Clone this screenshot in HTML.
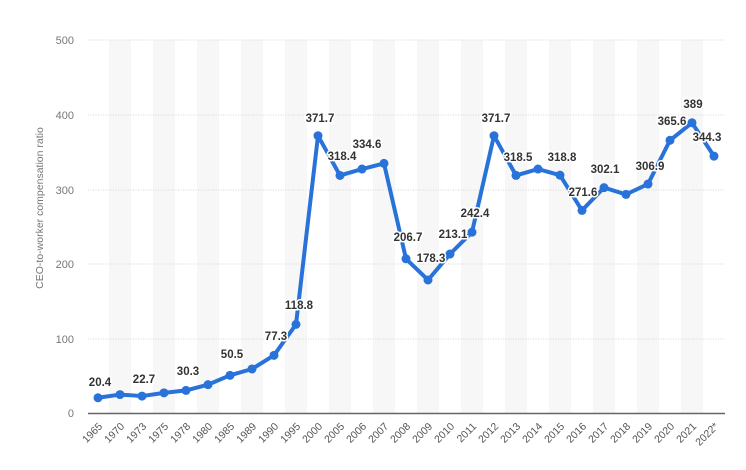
<!DOCTYPE html><html><head><style>body{margin:0;background:#fff}svg{display:block}</style></head><body>
<svg width="746" height="470" xmlns="http://www.w3.org/2000/svg" font-family="Liberation Sans, sans-serif">
<rect width="746" height="470" fill="#fff"/>
<g fill="#f7f7f7" id="bands"></g>
<g stroke="#d6d6d6" stroke-dasharray="1,1.5">
<line x1="88" x2="725" y1="40" y2="40"/><line x1="88" x2="725" y1="115" y2="115"/><line x1="88" x2="725" y1="190" y2="190"/><line x1="88" x2="725" y1="264" y2="264"/><line x1="88" x2="725" y1="339" y2="339"/>
</g>
<line x1="88" x2="725" y1="413.5" y2="413.5" stroke="#666" stroke-width="1.5"/>
<g fill="#777" font-size="11" text-anchor="end">
<text x="74" y="44">500</text><text x="74" y="119">400</text><text x="74" y="194">300</text><text x="74" y="268">200</text><text x="74" y="343">100</text><text x="74" y="417">0</text>
</g>
<text transform="translate(43,208) rotate(-90)" fill="#777" font-size="10.5" text-anchor="middle">CEO-to-worker compensation ratio</text>
<g id="xl" fill="#555" font-size="10.5" text-anchor="end"></g>
<polyline id="ln" fill="none" stroke="#2872d9" stroke-width="4" stroke-linejoin="round"/>
<g id="pts" fill="#2872d9"></g>
<g fill="#333" font-size="11.5" font-weight="bold" text-anchor="middle" stroke="#fff" stroke-width="3" paint-order="stroke">
<text x="100" y="386">20.4</text><text x="144" y="383">22.7</text><text x="188" y="375">30.3</text><text x="232" y="358">50.5</text><text x="276" y="340">77.3</text><text x="299" y="309">118.8</text><text x="320" y="122">371.7</text><text x="342" y="160">318.4</text><text x="367" y="148">334.6</text><text x="408" y="241">206.7</text><text x="431" y="262">178.3</text><text x="453" y="238">213.1</text><text x="475" y="217">242.4</text><text x="496" y="122">371.7</text><text x="518" y="161">318.5</text><text x="562" y="161">318.8</text><text x="583" y="196">271.6</text><text x="605" y="173">302.1</text><text x="650" y="170">306.9</text><text x="672" y="125">365.6</text><text x="693" y="108">389</text><text x="707" y="141">344.3</text>
</g>
<script>
var yrs=["1965","1970","1973","1975","1978","1980","1985","1989","1990","1995","2000","2005","2006","2007","2008","2009","2010","2011","2012","2013","2014","2015","2016","2017","2018","2019","2020","2021","2022*"];
var v=[20.4,24.7,22.7,27,30.3,38,50.5,59,77.3,118.8,371.7,318.4,327,334.6,206.7,178.3,213.1,242.4,371.7,318.5,327,318.8,271.6,302.1,293,306.9,365.6,389,344.3];
var ns="http://www.w3.org/2000/svg",b=document.getElementById('bands'),xl=document.getElementById('xl'),pts=document.getElementById('pts'),p=[];
for(var i=0;i<29;i++){var x=98+i*22,y=413-v[i]*0.746;p.push(x+","+y);
if(i%2==1){var r=document.createElementNS(ns,'rect');r.setAttribute('x',x-11);r.setAttribute('y',40);r.setAttribute('width',22);r.setAttribute('height',373);b.appendChild(r);}
var c=document.createElementNS(ns,'circle');c.setAttribute('cx',x);c.setAttribute('cy',y);c.setAttribute('r',4.5);pts.appendChild(c);
var t=document.createElementNS(ns,'text');t.setAttribute('transform','translate('+(x+5)+',427) rotate(-45)');t.textContent=yrs[i];xl.appendChild(t);}
document.getElementById('ln').setAttribute('points',p.join(' '));
</script>
</svg></body></html>
